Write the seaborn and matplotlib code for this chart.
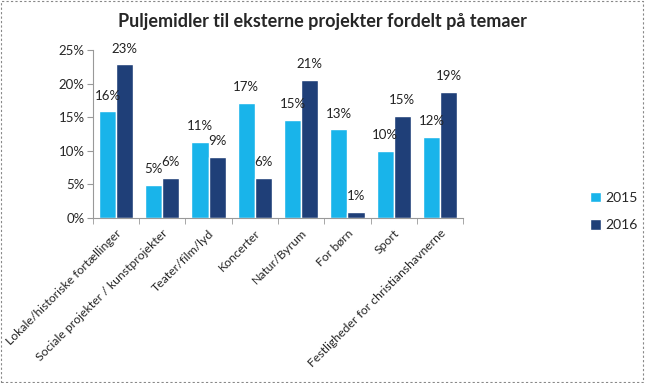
import numpy as np
import pandas as pd
import matplotlib
matplotlib.use("Agg")
import matplotlib.pyplot as plt
import seaborn as sns
from matplotlib.patches import Rectangle
from matplotlib.ticker import FuncFormatter, FixedLocator

# ======================================================
# DATA
# ======================================================

categories = [
    "Lokale/historiske fortællinger",
    "Sociale projekter / kunstprojekter",
    "Teater/film/lyd",
    "Koncerter",
    "Natur/Byrum",
    "For børn",
    "Sport",
    "Festligheder for christianshavnerne",
]
years = ["2015", "2016"]
values_2015 = [15.9, 4.9, 11.3, 17.2, 14.6, 13.2, 10.0, 12.1]
values_2016 = [22.9, 6.0, 9.1, 6.0, 20.6, 0.9, 15.2, 18.8]
y_ticks = [0, 5, 10, 15, 20, 25]

df = pd.DataFrame({
    "Tema": categories * 2,
    "Aar": [years[0]] * len(categories) + [years[1]] * len(categories),
    "Andel": values_2015 + values_2016,
})

# ======================================================
# PLOT
# ======================================================

sns.set_style("white")
plt.rcParams["font.family"] = ["Lato", "DejaVu Sans"]

fig = plt.figure(figsize=(6.45, 3.83), dpi=100)
ax = fig.add_axes([0.144, 0.431, 0.574, 0.438])

palette = {"2015": "#19B4EA", "2016": "#1F3F78"}

sns.barplot(
    data=df,
    x="Tema",
    y="Andel",
    hue="Aar",
    palette=palette,
    width=0.74,
    saturation=1,
    ax=ax,
)

for container in ax.containers:
    labels = [f"{v:.0f}%" for v in container.datavalues]
    ax.bar_label(container, labels=labels, padding=7, fontsize=9.5, color="#222222")

ax.set_ylim(0, 25)
ax.set_xlim(-0.5, len(categories) - 0.5)
ax.set_yticks(y_ticks)
ax.yaxis.set_major_formatter(FuncFormatter(lambda v, p: f"{v:.0f}%"))
ax.set_xlabel("")
ax.set_ylabel("")

ax.set_xticks(range(len(categories)))
ax.set_xticklabels(categories, rotation=45, ha="right", rotation_mode="anchor", fontsize=8.8)
ax.xaxis.set_minor_locator(FixedLocator(np.arange(-0.5, len(categories), 1)))
ax.tick_params(axis="x", which="major", length=0, pad=7)
ax.tick_params(axis="x", which="minor", length=4, color="#999999", direction="out", bottom=True)
ax.tick_params(axis="y", length=4, color="#999999", direction="out", labelsize=9.5, pad=2, left=True)

sns.despine(ax=ax, top=True, right=True)
for side in ["left", "bottom"]:
    ax.spines[side].set_color("#999999")
    ax.spines[side].set_linewidth(0.8)

ax.legend(
    loc="upper left",
    bbox_to_anchor=(1.31, 0.23),
    frameon=False,
    fontsize=10,
    handlelength=0.8,
    handleheight=0.8,
    handletextpad=0.3,
    labelspacing=1.1,
)

fig.text(0.5, 0.945, "Puljemidler til eksterne projekter fordelt på temaer",
         ha="center", va="center", fontsize=13, fontweight="bold")

fig.patches.append(Rectangle((0.002, 0.003), 0.995, 0.994, transform=fig.transFigure,
                             fill=False, edgecolor="#888888", linestyle=(0, (2, 2)),
                             linewidth=0.8))

fig.savefig("out.png", dpi=100)
plt.close(fig)
